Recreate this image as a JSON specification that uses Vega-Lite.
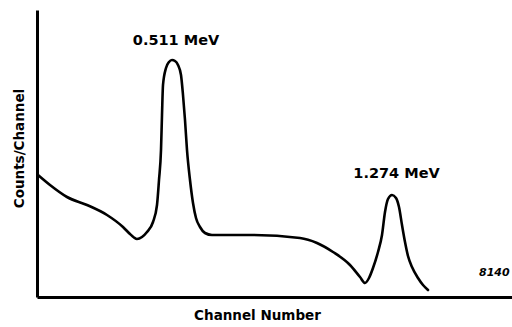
{
  "$schema": "https://vega.github.io/schema/vega-lite/v6.json",
  "autosize": "none",
  "width": 475,
  "height": 287,
  "padding": {"left": 37, "top": 10, "right": 0, "bottom": 30},
  "background": "white",
  "config": {"view": {"stroke": null}, "font": "DejaVu Sans"},
  "datasets": {
    "spectrum": [
      {"channel": 1, "counts": 122},
      {"channel": 13, "counts": 112},
      {"channel": 30, "counts": 100},
      {"channel": 50, "counts": 92},
      {"channel": 70, "counts": 82},
      {"channel": 86, "counts": 70},
      {"channel": 93, "counts": 63},
      {"channel": 97, "counts": 59.5},
      {"channel": 100, "counts": 58},
      {"channel": 105, "counts": 60},
      {"channel": 110, "counts": 65},
      {"channel": 116, "counts": 75},
      {"channel": 120, "counts": 92},
      {"channel": 122, "counts": 117},
      {"channel": 124, "counts": 147},
      {"channel": 125, "counts": 182},
      {"channel": 126, "counts": 212},
      {"channel": 129, "counts": 229},
      {"channel": 132, "counts": 235},
      {"channel": 135, "counts": 237},
      {"channel": 138, "counts": 236},
      {"channel": 141, "counts": 232},
      {"channel": 144, "counts": 222},
      {"channel": 146, "counts": 202},
      {"channel": 148, "counts": 177},
      {"channel": 150, "counts": 147},
      {"channel": 153, "counts": 117},
      {"channel": 156, "counts": 94},
      {"channel": 159, "counts": 79},
      {"channel": 163, "counts": 70},
      {"channel": 168, "counts": 64},
      {"channel": 175, "counts": 62},
      {"channel": 213, "counts": 62},
      {"channel": 263, "counts": 59},
      {"channel": 280, "counts": 54},
      {"channel": 296, "counts": 45},
      {"channel": 313, "counts": 32},
      {"channel": 323, "counts": 20},
      {"channel": 328, "counts": 14},
      {"channel": 332, "counts": 19},
      {"channel": 336, "counts": 29},
      {"channel": 341, "counts": 45},
      {"channel": 345, "counts": 62},
      {"channel": 348, "counts": 85},
      {"channel": 351, "counts": 98},
      {"channel": 355, "counts": 102},
      {"channel": 359, "counts": 99},
      {"channel": 362, "counts": 90},
      {"channel": 365, "counts": 72},
      {"channel": 368, "counts": 55},
      {"channel": 371, "counts": 41},
      {"channel": 375, "counts": 30},
      {"channel": 381, "counts": 19},
      {"channel": 386, "counts": 12},
      {"channel": 391, "counts": 7}
    ],
    "labels": [
      {"channel": 139, "counts": 256, "text": "0.511 MeV"},
      {"channel": 359.5, "counts": 123.5, "text": "1.274 MeV"}
    ],
    "tag": [
      {"channel": 442, "counts": 24, "text": "8140"}
    ]
  },
  "layer": [
    {
      "data": {"name": "spectrum"},
      "mark": {"type": "line", "color": "black", "strokeWidth": 2.6, "interpolate": "monotone", "strokeCap": "round", "strokeJoin": "round"},
      "encoding": {
        "x": {
          "field": "channel", "type": "quantitative",
          "scale": {"domain": [0, 475], "nice": false, "zero": false},
          "axis": {
            "title": "Channel Number", "ticks": false, "labels": false, "grid": false,
            "domainColor": "black", "domainWidth": 3,
            "titleFont": "DejaVu Sans", "titleFontSize": 13.5, "titleFontWeight": "bold", "titleColor": "black",
            "titleX": 220, "titleY": 18, "titleBaseline": "middle", "titleAlign": "center"
          }
        },
        "y": {
          "field": "counts", "type": "quantitative",
          "scale": {"domain": [0, 287], "nice": false, "zero": false},
          "axis": {
            "title": "Counts/Channel", "ticks": false, "labels": false, "grid": false,
            "domainColor": "black", "domainWidth": 3,
            "titleFont": "DejaVu Sans", "titleFontSize": 13.5, "titleFontWeight": "bold", "titleColor": "black",
            "titleX": -18, "titleY": 138, "titleBaseline": "middle", "titleAlign": "center", "titleAngle": -90
          }
        }
      }
    },
    {
      "data": {"name": "labels"},
      "mark": {"type": "text", "font": "DejaVu Sans", "fontSize": 14.5, "fontWeight": "bold", "color": "black", "align": "center", "baseline": "middle"},
      "encoding": {
        "x": {"field": "channel", "type": "quantitative"},
        "y": {"field": "counts", "type": "quantitative"},
        "text": {"field": "text"}
      }
    },
    {
      "data": {"name": "tag"},
      "mark": {"type": "text", "font": "DejaVu Sans", "fontSize": 11, "fontStyle": "italic", "fontWeight": "bold", "color": "black", "align": "left", "baseline": "middle"},
      "encoding": {
        "x": {"field": "channel", "type": "quantitative"},
        "y": {"field": "counts", "type": "quantitative"},
        "text": {"field": "text"}
      }
    }
  ]
}
